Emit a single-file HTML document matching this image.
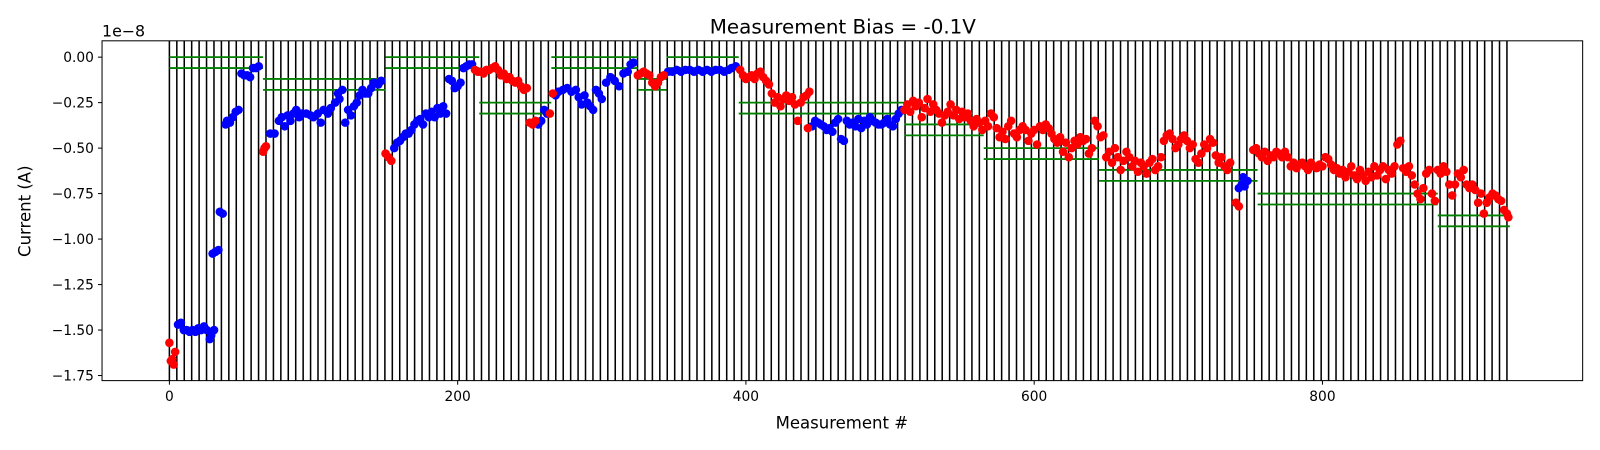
<!DOCTYPE html>
<html><head><meta charset="utf-8"><style>
body{margin:0;background:#fff;}
svg{display:block;font-family:"DejaVu Sans","Liberation Sans",sans-serif;}
</style></head><body>
<svg id="chart" width="1600" height="450" viewBox="0 0 1568 441" preserveAspectRatio="none" xmlns="http://www.w3.org/2000/svg">
<rect x="0" y="0" width="1568" height="441" fill="#fff"/>
<g id="vlines"></g>
<g id="greens"></g>
<g id="dots"></g>
<rect x="100" y="40" width="1451" height="333" fill="none" stroke="#000" stroke-width="1"/>
<g id="xticks"></g>
<g id="yticks"></g>
<text x="826" y="33" text-anchor="middle" font-size="19.5">Measurement Bias = -0.1V</text>
<text x="100" y="36" font-size="15.5">1e−8</text>
<text x="825" y="420" text-anchor="middle" font-size="16.2">Measurement #</text>
<text x="30" y="207" text-anchor="middle" font-size="16.2" transform="rotate(-90 30 207)">Current (A)</text>
</svg>
<script>
const xTicks=[0,200,400,600,800];
const yTicks=[0,-0.25,-0.5,-0.75,-1.0,-1.25,-1.5,-1.75];
const yTickLabels=["0.00","−0.25","−0.50","−0.75","−1.00","−1.25","−1.50","−1.75"];
const vlineStart=0, vlineEnd=928, vlineCount=181;
const greenX0=[0,0,65,65,150,150,215,215,265,265,325,325,345,345,395,395,510,510,565,565,645,645,755,755,880,880];
const greenX1=[65,65,150,150,215,215,265,265,325,325,345,345,395,395,510,510,565,565,645,645,755,755,880,880,930,930];
const greenY=[0,-0.06,-0.12,-0.18,0,-0.06,-0.25,-0.31,0,-0.06,-0.12,-0.18,0,-0.06,-0.25,-0.31,-0.37,-0.43,-0.5,-0.56,-0.62,-0.68,-0.75,-0.81,-0.87,-0.93];
const redPts=[[0,-1.57],[1,-1.67],[2,-1.66],[3,-1.69],[4,-1.62],
[65,-0.52],[66,-0.50],[67,-0.49],[150,-0.53],[152,-0.55],[154,-0.57],
[212,-0.07],[214,-0.08],[216,-0.08],[218,-0.09],[220,-0.07],[222,-0.07],[224,-0.06],[226,-0.05],[228,-0.07],[230,-0.10],[232,-0.09],[234,-0.12],[236,-0.11],[238,-0.13],[240,-0.14],[242,-0.13],[244,-0.16],[246,-0.18],[248,-0.17],[250,-0.36],[252,-0.37],[254,-0.35],
[264,-0.31],[266,-0.20],
[325,-0.10],[327,-0.09],[329,-0.08],[331,-0.09],[333,-0.10],[335,-0.14],[337,-0.16],[339,-0.14],[341,-0.11],[343,-0.10],
[396,-0.07],[398,-0.10],[400,-0.12],[402,-0.11],[404,-0.10],[406,-0.12],[408,-0.09],[410,-0.08],[412,-0.11],[414,-0.13],[416,-0.15],[418,-0.20],[420,-0.25],[422,-0.22],[424,-0.27],[426,-0.23],[428,-0.21],[430,-0.24],[432,-0.22],[434,-0.26],[436,-0.35],[438,-0.25],[440,-0.22],[442,-0.21],[444,-0.19],[443,-0.39],
[510,-0.29],[512,-0.26],[514,-0.30],[516,-0.24],[518,-0.27],[520,-0.25],[522,-0.33],[524,-0.28],[526,-0.23],[528,-0.30],[530,-0.26],[532,-0.29],[534,-0.31],[536,-0.36],[538,-0.32],[540,-0.30],[542,-0.26],[544,-0.32],[546,-0.29],[548,-0.34],[550,-0.30],[552,-0.33],[554,-0.31],[556,-0.35],[558,-0.38],[560,-0.34],[562,-0.36],[564,-0.40],[566,-0.35],[568,-0.38],[570,-0.31],[572,-0.33],[574,-0.39],[576,-0.44],[578,-0.41],[580,-0.45],[582,-0.38],[584,-0.35],[586,-0.42],[588,-0.44],[590,-0.40],[592,-0.38],[594,-0.40],[596,-0.46],[598,-0.42],[600,-0.40],[602,-0.48],[604,-0.38],[606,-0.40],[608,-0.37],[610,-0.39],[612,-0.42],[614,-0.45],[616,-0.47],[618,-0.44],[620,-0.52],[622,-0.47],[624,-0.55],[626,-0.50],[628,-0.46],[630,-0.48],[632,-0.44],[634,-0.46],[636,-0.45],[638,-0.53],[640,-0.50],[642,-0.35],[644,-0.38],[646,-0.44],[648,-0.43],[650,-0.55],[652,-0.52],[654,-0.58],[656,-0.50],[658,-0.55],[660,-0.62],[662,-0.57],[664,-0.52],[666,-0.55],[668,-0.60],[670,-0.57],[672,-0.63],[674,-0.58],[676,-0.60],[678,-0.64],[680,-0.58],[682,-0.56],[684,-0.62],[686,-0.60],[688,-0.55],[690,-0.46],[692,-0.43],[694,-0.42],[696,-0.45],[698,-0.50],[700,-0.48],[702,-0.45],[704,-0.43],[706,-0.46],[708,-0.50],[710,-0.48],[712,-0.56],[714,-0.58],[716,-0.53],[718,-0.48],[720,-0.50],[722,-0.45],[724,-0.47],[726,-0.54],[728,-0.58],[730,-0.55],[732,-0.60],[734,-0.62],[736,-0.58],[740,-0.80],[742,-0.82],
[752,-0.51],[754,-0.50],[756,-0.53],[758,-0.55],[760,-0.52],[762,-0.57],[764,-0.54],[766,-0.55],[768,-0.52],[770,-0.53],[772,-0.55],[774,-0.52],[776,-0.55],[778,-0.60],[780,-0.58],[782,-0.61],[784,-0.59],[786,-0.58],[788,-0.60],[790,-0.62],[792,-0.58],[794,-0.60],[796,-0.61],[798,-0.59],[800,-0.60],[802,-0.55],[804,-0.56],[806,-0.59],[808,-0.62],[810,-0.61],[812,-0.64],[814,-0.62],[816,-0.66],[818,-0.63],[820,-0.60],[822,-0.65],[824,-0.67],[826,-0.62],[828,-0.65],[830,-0.68],[832,-0.63],[834,-0.66],[836,-0.60],[838,-0.65],[840,-0.62],[842,-0.60],[844,-0.67],[846,-0.62],[848,-0.64],[850,-0.60],[852,-0.48],[854,-0.46],[856,-0.61],[858,-0.63],[860,-0.60],[862,-0.65],[864,-0.70],[866,-0.75],[868,-0.78],[870,-0.72],[872,-0.64],[874,-0.62],[876,-0.75],[878,-0.79],[880,-0.62],[882,-0.64],[884,-0.60],[886,-0.63],[888,-0.70],[890,-0.76],[892,-0.70],[894,-0.64],[896,-0.66],[898,-0.62],[900,-0.70],[902,-0.72],[904,-0.70],[906,-0.73],[908,-0.80],[910,-0.75],[912,-0.86],[914,-0.80],[916,-0.77],[918,-0.75],[920,-0.76],[922,-0.78],[924,-0.79],[926,-0.84],[928,-0.86],[929,-0.88]];
const bluePts=[[6,-1.47],[8,-1.46],[10,-1.50],[12,-1.50],[14,-1.51],[16,-1.50],[18,-1.51],[20,-1.49],[22,-1.50],[24,-1.48],[26,-1.50],[28,-1.55],[29,-1.53],[31,-1.50],[30,-1.08],[32,-1.07],[34,-1.06],[35,-0.85],[37,-0.86],[39,-0.37],[40,-0.35],[42,-0.36],[44,-0.33],[46,-0.30],[48,-0.29],[50,-0.09],[52,-0.10],[54,-0.10],[56,-0.11],[58,-0.06],[60,-0.06],[62,-0.05],
[70,-0.42],[73,-0.42],[76,-0.35],[78,-0.33],[80,-0.38],[82,-0.32],[84,-0.35],[86,-0.31],[88,-0.29],[90,-0.33],[92,-0.31],[95,-0.31],[98,-0.32],[100,-0.33],[103,-0.31],[105,-0.36],[107,-0.29],[110,-0.31],[112,-0.28],[115,-0.25],[117,-0.20],[118,-0.23],[120,-0.18],[122,-0.36],[124,-0.29],[126,-0.32],[128,-0.27],[130,-0.25],[132,-0.21],[134,-0.18],[136,-0.20],[138,-0.20],[140,-0.17],[142,-0.14],[145,-0.15],[147,-0.13],
[156,-0.50],[158,-0.47],[160,-0.46],[162,-0.44],[164,-0.42],[166,-0.42],[168,-0.40],[170,-0.37],[172,-0.35],[174,-0.34],[176,-0.37],[178,-0.31],[180,-0.33],[182,-0.30],[184,-0.33],[186,-0.28],[188,-0.31],[190,-0.27],[192,-0.31],[194,-0.12],[196,-0.13],[198,-0.17],[200,-0.16],[202,-0.14],[204,-0.06],[206,-0.05],[208,-0.04],[210,-0.04],
[256,-0.37],[258,-0.35],[260,-0.29],[262,-0.31],
[268,-0.21],[270,-0.19],[273,-0.18],[276,-0.17],[279,-0.19],[282,-0.18],[284,-0.22],[286,-0.26],[288,-0.21],[290,-0.25],[292,-0.27],[294,-0.29],[296,-0.18],[298,-0.20],[300,-0.23],[303,-0.14],[306,-0.11],[309,-0.13],[312,-0.16],[315,-0.09],[318,-0.08],[320,-0.04],[322,-0.03],
[346,-0.08],[349,-0.08],[352,-0.07],[355,-0.08],[358,-0.07],[361,-0.07],[364,-0.08],[367,-0.07],[370,-0.08],[373,-0.07],[376,-0.08],[379,-0.07],[382,-0.07],[385,-0.08],[388,-0.07],[390,-0.06],[393,-0.05],
[446,-0.38],[448,-0.35],[450,-0.36],[452,-0.37],[454,-0.38],[456,-0.40],[458,-0.39],[460,-0.41],[462,-0.36],[464,-0.34],[466,-0.45],[468,-0.46],[470,-0.35],[472,-0.37],[474,-0.36],[476,-0.38],[478,-0.34],[480,-0.39],[482,-0.35],[484,-0.37],[486,-0.33],[488,-0.35],[490,-0.36],[492,-0.37],[494,-0.37],[496,-0.36],[498,-0.34],[500,-0.37],[502,-0.38],[504,-0.34],[506,-0.31],[508,-0.29],
[742,-0.72],[744,-0.70],[746,-0.71],[748,-0.68],[745,-0.66]];

const NS="http://www.w3.org/2000/svg";
const X0=166, XS=1.4125, Y0=56, YS=178.3, TOP=40, BOT=373;
function sx(v){return X0+v*XS;}
function sy(v){return Y0-v*YS;}
function mk(tag,attrs,parent){const e=document.createElementNS(NS,tag);for(const k in attrs)e.setAttribute(k,attrs[k]);parent.appendChild(e);return e;}

const vg=document.getElementById('vlines');
for(let i=0;i<vlineCount;i++){
  const v=vlineStart+(vlineEnd-vlineStart)*i/(vlineCount-1);
  const l=mk('line',{x1:sx(v),x2:sx(v),y1:TOP,y2:BOT,stroke:'#000','stroke-width':1.5},vg);
  
  
}
const gg=document.getElementById('greens');
for(let i=0;i<greenY.length;i++){
  const l=mk('line',{x1:sx(greenX0[i]),x2:sx(greenX1[i]),y1:sy(greenY[i]),y2:sy(greenY[i]),stroke:'#008000','stroke-width':1.8},gg);
  
  
}
const dg=document.getElementById('dots');
function drawPts(pts,color,name){
  for(const p of pts){
    const c=mk('circle',{cx:sx(p[0]),cy:sy(p[1]),r:4.2,fill:color},dg);
    
    
  }
}
drawPts(bluePts,'#0000ff','blue-point');
drawPts(redPts,'#ff0000','red-point');

const xg=document.getElementById('xticks');
for(const t of xTicks){
  mk('line',{x1:sx(t),x2:sx(t),y1:BOT,y2:BOT+4,stroke:'#000'},xg);
  const tx=mk('text',{x:sx(t),y:BOT+20,'text-anchor':'middle','font-size':13.5},xg);
  tx.textContent=t;
  
  
}
const yg=document.getElementById('yticks');
yTicks.forEach((t,i)=>{
  mk('line',{x1:96,x2:100,y1:sy(t),y2:sy(t),stroke:'#000'},yg);
  const tx=mk('text',{x:92,y:sy(t)+5,'text-anchor':'end','font-size':13.5},yg);
  tx.textContent=yTickLabels[i];
  
  
});
</script>
</body></html>
